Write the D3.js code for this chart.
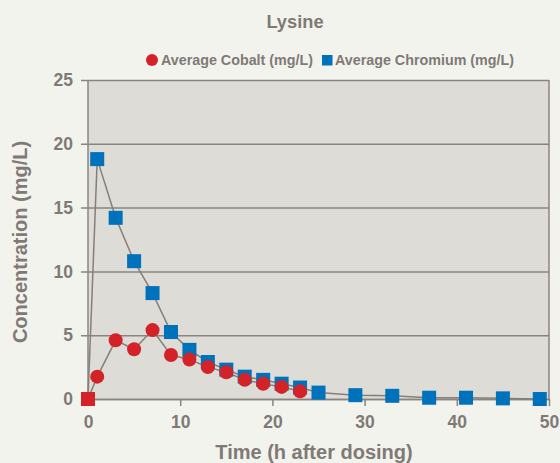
<!DOCTYPE html>
<html>
<head>
<meta charset="utf-8">
<script src="https://cdn.jsdelivr.net/npm/d3@7"></script>
<style>
  body { margin: 0; background: #f3f3ee; }
  svg { display: block; font-family: "Liberation Sans", Arial, sans-serif; }
</style>
</head>
<body>
<div id="chart"></div>
<script>
// chart values
var cobaltTime = [0, 1, 3, 5, 7, 9, 11, 13, 15, 17, 19, 21, 23]
var cobaltConc = [0, 1.75, 4.6, 3.9, 5.4, 3.45, 3.1, 2.5, 2.1, 1.5, 1.2, 0.95, 0.6]
var chromTime = [0, 1, 3, 5, 7, 9, 11, 13, 15, 17, 19, 21, 23, 25, 29, 33, 37, 41, 45, 49]
var chromConc = [0, 18.8, 14.2, 10.8, 8.3, 5.25, 3.85, 2.9, 2.3, 1.75, 1.5, 1.2, 0.9, 0.5, 0.3, 0.25, 0.1, 0.1, 0.05, 0]
var xTicks = [0, 10, 20, 30, 40, 50]
var yTicks = [0, 5, 10, 15, 20, 25]

var W = 560, H = 463
var m = {left: 88, right: 11, top: 80, bottom: 64}
var grey = "#7f7a76", lineGrey = "#8a8480"
var red = "#d42229", blue = "#0071bb"

var svg = d3.select("#chart").append("svg").attr("width", W).attr("height", H)
svg.append("rect").attr("width", W).attr("height", H).attr("fill", "#f3f3ee")

var x = d3.scaleLinear().domain([0, 50]).range([m.left, W - m.right])
var y = d3.scaleLinear().domain([0, 25]).range([H - m.bottom, m.top])

// plot area
svg.append("rect")
  .attr("x", x(0)).attr("y", y(25))
  .attr("width", x(50) - x(0)).attr("height", y(0) - y(25))
  .attr("fill", "#dddcd6")

// horizontal grid + y axis
var yAxis = svg.append("g").attr("transform", "translate(" + x(0) + ",0)")
  .call(d3.axisLeft(y).tickValues(yTicks).tickSize(-(x(50) - x(0))).tickSizeOuter(0).tickPadding(15))
yAxis.select(".domain").remove()
yAxis.selectAll(".tick line").attr("x1", -7).attr("stroke", lineGrey).attr("stroke-width", 1.5)
yAxis.selectAll("text").attr("fill", grey).attr("font-size", 17.5).attr("font-weight", "bold")

// x axis
var xAxis = svg.append("g").attr("transform", "translate(0," + y(0) + ")")
  .call(d3.axisBottom(x).tickValues(xTicks).tickSize(7).tickSizeOuter(0).tickPadding(10))
xAxis.select(".domain").attr("stroke", lineGrey).attr("stroke-width", 1.5)
xAxis.selectAll(".tick line").attr("stroke", lineGrey).attr("stroke-width", 1.5)
xAxis.selectAll("text").attr("fill", grey).attr("font-size", 17.5).attr("font-weight", "bold")

// left and right frame
svg.append("line").attr("x1", x(0)).attr("x2", x(0)).attr("y1", y(25)).attr("y2", y(0) + 7)
  .attr("stroke", lineGrey).attr("stroke-width", 1.5)
svg.append("line").attr("x1", x(50)).attr("x2", x(50)).attr("y1", y(25)).attr("y2", y(0))
  .attr("stroke", lineGrey).attr("stroke-width", 1.5)

var line = d3.line().x(function(d){ return x(d[0]) }).y(function(d){ return y(d[1]) })
var chrom = chromTime.map(function(t, i){ return [t, chromConc[i]] })
var cobalt = cobaltTime.map(function(t, i){ return [t, cobaltConc[i]] })

svg.append("path").datum(chrom).attr("d", line)
  .attr("fill", "none").attr("stroke", "#857f7a").attr("stroke-width", 1.5)
svg.append("path").datum(cobalt).attr("d", line)
  .attr("fill", "none").attr("stroke", "#857f7a").attr("stroke-width", 1.5)

var sq = 14
svg.append("g").selectAll("rect").data(chrom).enter().append("rect")
  .attr("x", function(d){ return x(d[0]) - sq / 2 })
  .attr("y", function(d){ return y(d[1]) - sq / 2 })
  .attr("width", sq).attr("height", sq).attr("fill", blue)

// first cobalt point is drawn as a square in the original
svg.append("g").selectAll(".co").data(cobalt).enter()
  .each(function(d, i){
    var g = d3.select(this)
    if (i === 0) {
      g.append("rect").attr("x", x(d[0]) - sq / 2).attr("y", y(d[1]) - sq / 2)
        .attr("width", sq).attr("height", sq).attr("fill", red)
    } else {
      g.append("circle").attr("cx", x(d[0])).attr("cy", y(d[1])).attr("r", 7).attr("fill", red)
    }
  })

// title
svg.append("text").attr("x", 295).attr("y", 28).attr("text-anchor", "middle")
  .attr("fill", grey).attr("font-size", 18.3).attr("font-weight", "bold").text("Lysine")

// legend
var lg = svg.append("g").attr("font-size", 14.3).attr("font-weight", "bold").attr("fill", grey)
lg.append("circle").attr("cx", 152).attr("cy", 60).attr("r", 6).attr("fill", red)
lg.append("text").attr("x", 161).attr("y", 65).text("Average Cobalt (mg/L)")
lg.append("rect").attr("x", 322).attr("y", 55).attr("width", 10.5).attr("height", 10.5).attr("fill", blue)
lg.append("text").attr("x", 335).attr("y", 65).text("Average Chromium (mg/L)")

// axis titles
svg.append("text").attr("x", 314).attr("y", 459).attr("text-anchor", "middle")
  .attr("fill", grey).attr("font-size", 20).attr("font-weight", "bold").text("Time (h after dosing)")
svg.append("text").attr("transform", "translate(27,242) rotate(-90)").attr("text-anchor", "middle")
  .attr("fill", grey).attr("font-size", 20).attr("font-weight", "bold").text("Concentration (mg/L)")
</script>
</body>
</html>
